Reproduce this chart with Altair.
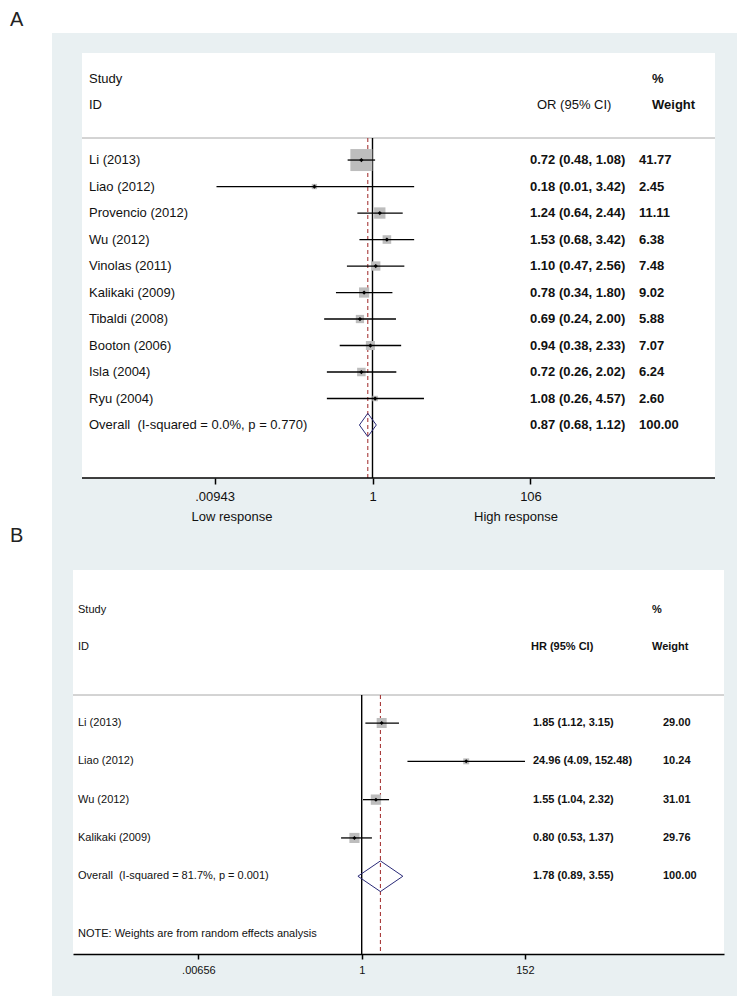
import altair as alt
import pandas as pd

# ---------------- Panel A data ----------------
studies_a = ["Li (2013)", "Liao (2012)", "Provencio (2012)", "Wu (2012)", "Vinolas (2011)",
             "Kalikaki (2009)", "Tibaldi (2008)", "Booton (2006)", "Isla (2004)", "Ryu (2004)"]
or_a = [0.72, 0.18, 1.24, 1.53, 1.10, 0.78, 0.69, 0.94, 0.72, 1.08]
lci_a = [0.48, 0.01, 0.64, 0.68, 0.47, 0.34, 0.24, 0.38, 0.26, 0.26]
uci_a = [1.08, 3.42, 2.44, 3.42, 2.56, 1.80, 2.00, 2.33, 2.02, 4.57]
weight_a = [41.77, 2.45, 11.11, 6.38, 7.48, 9.02, 5.88, 7.07, 6.24, 2.60]
overall_a_label = "Overall \u00a0(I-squared = 0.0%, p = 0.770)"
overall_a = [0.87, 0.68, 1.12]
overall_a_weight = 100.00
ticks_a = [0.00943, 1, 106]
tick_labels_a = [".00943", "1", "106"]
favours_a = ["Low response", "High response"]

# ---------------- Panel B data ----------------
studies_b = ["Li (2013)", "Liao (2012)", "Wu (2012)", "Kalikaki (2009)"]
hr_b = [1.85, 24.96, 1.55, 0.80]
lci_b = [1.12, 4.09, 1.04, 0.53]
uci_b = [3.15, 152.48, 2.32, 1.37]
weight_b = [29.00, 10.24, 31.01, 29.76]
overall_b_label = "Overall \u00a0(I-squared = 81.7%, p = 0.001)"
overall_b = [1.78, 0.89, 3.55]
overall_b_weight = 100.00
ticks_b = [0.00656, 1, 152]
tick_labels_b = [".00656", "1", "152"]
note_b = "NOTE: Weights are from random effects analysis"

# ---------------- style ----------------
FONT = "Liberation Sans"
GRAY_BG = "#e9f0f2"
BOX = "#bdbdbd"
TXT = "#111111"
DASH = "#a83a3a"
NAVY = "#2a2a78"
W = 651

ONE = pd.DataFrame({"k": [0]})


def label_expr(vals, labels):
    parts = [f"abs(log(datum.value) - log({v})) < 0.01 ? '{l}'" for v, l in zip(vals, labels)]
    return " : ".join(parts) + " : ''"


def panel(studies, est, lci, uci, wts, ov_label, ov, ov_w, es_head, ticks, tick_labels, g):
    n = len(studies)
    H = g["H"]
    rows = pd.DataFrame({
        "row": list(range(n)), "label": studies, "est": est, "lci": lci, "uci": uci, "w": wts,
    })
    txt = pd.DataFrame({
        "row": list(range(n + 1)),
        "label": studies + [ov_label],
        "es_txt": [f"{e:.2f} ({l:.2f}, {u:.2f})" for e, l, u in zip(est + [ov[0]], lci + [ov[1]], uci + [ov[2]])],
        "w_txt": [f"{x:.2f}" for x in wts + [ov_w]],
    })
    hd = g["dia_h"]
    dia = pd.DataFrame({"x": [ov[1], ov[0], ov[2], ov[0], ov[1]],
                        "y": [n, n - hd, n, n + hd, n], "o": [0, 1, 2, 3, 4]})

    c, ppd = g["center"], g["ppd"]
    xs = alt.Scale(type="log", domain=[10 ** (-c / ppd), 10 ** ((W - c) / ppd)], nice=False)
    ys = alt.Scale(domain=[g["r0"], g["r1"]], reverse=True, nice=False, zero=False)
    ax = alt.Axis(values=ticks, labelExpr=label_expr(ticks, tick_labels), title=None, grid=False,
                  domain=g["domain"], domainColor="black", domainWidth=1.5,
                  tickColor="black", tickWidth=1.5, tickSize=g["tick"],
                  labelFont=FONT, labelFontSize=g["tfs"], labelColor=TXT, labelPadding=g["lpad"],
                  labelFlush=False, labelOverlap=False, zindex=1)

    def X(field):
        return alt.X(field, type="quantitative", scale=xs, axis=ax)

    def XD(v):
        return alt.X(datum=v, type="quantitative", scale=xs, axis=ax)

    Y = alt.Y("row:Q", scale=ys, axis=None)
    fs = g["fs"]
    layers = []
    if g.get("bounds"):
        bx1, by1, bx2 = g["bounds"]
        layers.append(alt.Chart(ONE).mark_rect(opacity=0).encode(
            x=alt.value(bx1), x2=alt.value(bx2), y=alt.value(by1), y2=alt.value(by1 + 2)))
    gx1, gx2, gy1, gy2 = g["gray"]
    layers.append(alt.Chart(ONE).mark_rect(color=GRAY_BG).encode(
        x=alt.value(gx1), x2=alt.value(gx2), y=alt.value(gy1), y2=alt.value(gy2)))
    wx1, wx2 = g["white"]
    layers.append(alt.Chart(ONE).mark_rect(color="white").encode(
        x=alt.value(wx1), x2=alt.value(wx2), y=alt.value(0), y2=alt.value(H)))
    # header separator
    layers.append(alt.Chart(ONE).mark_rule(color="#a8a8a8", strokeWidth=1).encode(
        x=alt.value(wx1), x2=alt.value(wx2), y=alt.value(g["line_y"])))
    # null line and overall line
    layers.append(alt.Chart(ONE).mark_rule(color="black", strokeWidth=1.4).encode(
        x=XD(1), y=alt.value(g["line_y"]), y2=alt.value(H)))
    layers.append(alt.Chart(ONE).mark_rule(color=DASH, strokeWidth=1.1, strokeDash=[4, 3]).encode(
        x=XD(ov[0]), y=alt.value(g["line_y"]), y2=alt.value(H)))
    # weight boxes
    layers.append(alt.Chart(rows).mark_square(color=BOX, opacity=1).encode(
        x=X("est"), y=Y,
        size=alt.Size("w:Q", scale=alt.Scale(type="linear", domain=[0, g["box_w"]], range=[0, g["box_a"]]),
                      legend=None)))
    # CIs
    layers.append(alt.Chart(rows).mark_rule(color="black", strokeWidth=1.3).encode(
        x=X("lci"), x2="uci:Q", y=Y))
    # point estimates
    layers.append(alt.Chart(rows).mark_point(shape="diamond", filled=True, color="black",
                                             opacity=1, size=g["dot"]).encode(x=X("est"), y=Y))
    # overall diamond
    layers.append(alt.Chart(dia).mark_line(color=NAVY, strokeWidth=1).encode(
        x=X("x"), y=alt.Y("y:Q", scale=ys, axis=None), order="o:Q"))
    # texts
    layers.append(alt.Chart(txt).mark_text(align="left", baseline="middle", font=FONT, fontSize=fs,
                                           color=TXT).encode(x=alt.value(g["tx_label"]), y=Y, text="label:N"))
    layers.append(alt.Chart(txt).mark_text(align="left", baseline="middle", font=FONT, fontSize=fs,
                                           fontWeight="bold", color=TXT).encode(
        x=alt.value(g["tx_es"]), y=Y, text="es_txt:N"))
    layers.append(alt.Chart(txt).mark_text(align="left", baseline="middle", font=FONT, fontSize=fs,
                                           fontWeight="bold", color=TXT).encode(
        x=alt.value(g["tx_w"]), y=Y, text="w_txt:N"))
    # headers
    for text, x, y, bold in [("Study", g["tx_label"], g["study_y"], False),
                             ("ID", g["tx_label"], g["id_y"], False),
                             (es_head, g["tx_eshead"], g["id_y"], g["eshead_bold"]),
                             ("%", g["tx_whead"], g["study_y"], True),
                             ("Weight", g["tx_whead"], g["id_y"], True)]:
        layers.append(alt.Chart(ONE).mark_text(text=text, align="left", baseline="middle", font=FONT,
                                               fontSize=fs, fontWeight="bold" if bold else "normal",
                                               color=TXT).encode(x=alt.value(x), y=alt.value(y)))
    if g.get("axis_rule"):
        ax1, ax2 = g["axis_rule"]
        layers.append(alt.Chart(ONE).mark_rule(color="black", strokeWidth=1.5).encode(
            x=alt.value(ax1), x2=alt.value(ax2), y=alt.value(H)))
    for text, x, y in g.get("extra_text", []):
        layers.append(alt.Chart(ONE).mark_text(text=text, align=g.get("extra_align", "center"),
                                               baseline="middle", font=FONT, fontSize=fs,
                                               color=TXT).encode(x=alt.value(x), y=alt.value(y)))
    # panel letter
    letter, lx, ly = g["letter"]
    layers.append(alt.Chart(ONE).mark_text(text=letter, align="left", baseline="alphabetic", font=FONT,
                                           fontSize=20, color="#222222").encode(
        x=alt.value(lx), y=alt.value(ly)))
    return alt.layer(*layers).properties(width=W, height=H)


geom_a = dict(
    H=425, center=299.5, ppd=78.0, r0=-4.04, r1=12.0, dia_h=0.44,
    domain=False, tick=6, tfs=13, lpad=6, fs=13,
    bounds=(-65, -45, 664), gray=(-21, 664, -20, 507), white=(9, 642), line_y=85,
    box_w=41.77, box_a=484, dot=18,
    tx_label=16, tx_es=457, tx_w=566, tx_eshead=464, tx_whead=579, eshead_bold=False,
    study_y=26, id_y=52, axis_rule=(9, 642),
    extra_text=[(favours_a[0], 159, 464), (favours_a[1], 443, 464)],
    letter=("A", -63, -27),
)

geom_b = dict(
    H=384, center=288.7, ppd=74.8, r0=-3.995, r1=6.03, dia_h=0.4,
    domain=True, tick=5, tfs=11, lpad=5, fs=11,
    gray=(-21, 664, -43, 426), white=(0, W), line_y=125,
    box_w=29.0, box_a=100, dot=16,
    tx_label=5, tx_es=460, tx_w=590, tx_eshead=458, tx_whead=579, eshead_bold=True,
    study_y=40, id_y=77,
    extra_text=[(note_b, 5, 364)], extra_align="left",
    letter=("B", -63, -28),
)

pa = panel(studies_a, or_a, lci_a, uci_a, weight_a, overall_a_label, overall_a, overall_a_weight,
           "OR (95% CI)", ticks_a, tick_labels_a, geom_a)
pb = panel(studies_b, hr_b, lci_b, uci_b, weight_b, overall_b_label, overall_b, overall_b_weight,
           "HR (95% CI)", ticks_b, tick_labels_b, geom_b)

chart = (alt.vconcat(pa, pb, spacing=92, bounds="flush")
         .resolve_scale(x="independent", y="independent", size="independent")
         .properties(padding=0, background="white")
         .configure_view(stroke=None))

chart.save("out.html", embed_options={"renderer": "svg", "actions": False})
